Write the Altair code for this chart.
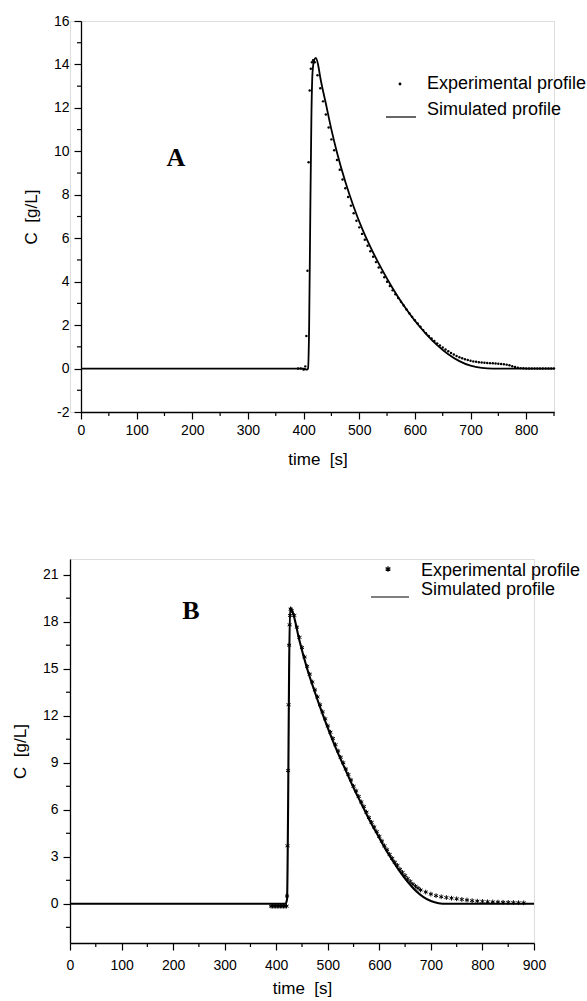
import altair as alt
import pandas as pd

# ---------------- panel A data ----------------
A_SIM_T = [0, 400, 406, 408, 410, 412, 414, 416, 419, 422, 426, 430, 440, 450, 460, 475,
           490, 505, 520, 540, 560, 580, 600, 620, 640, 660, 680, 700, 720, 740, 850]
A_SIM_C = [0, 0, -0.05, 0.0, 2.0, 7.0, 11.5, 13.6, 14.2, 14.3, 14.0, 13.4, 12.2, 11.0, 9.95, 8.6,
           7.45, 6.45, 5.6, 4.6, 3.7, 2.9, 2.2, 1.6, 1.08, 0.66, 0.34, 0.13, 0.03, 0, 0]

A_EXP_T = [390, 395, 400, 403, 405, 407, 409, 411, 413, 415, 417, 420] + list(range(425, 851, 5))
A_EXP_C = [0, 0, -0.05, 0.1, 1.5, 4.5, 9.5, 12.8, 13.8, 14.1, 14.2, 14.1,
           13.5, 12.9, 12.3, 11.7, 11.1, 10.55, 10.05, 9.6, 9.15, 8.7,
           8.3, 7.9, 7.5, 7.15, 6.8, 6.5, 6.2, 5.93, 5.65, 5.4,
           5.15, 4.9, 4.65, 4.42, 4.2, 4.0, 3.8, 3.6, 3.42, 3.25,
           3.08, 2.9, 2.72, 2.55, 2.38, 2.22, 2.07, 1.92, 1.77, 1.63,
           1.5, 1.38, 1.27, 1.16, 1.06, 0.97, 0.88, 0.8, 0.72, 0.65,
           0.58, 0.52, 0.47, 0.43, 0.39, 0.36, 0.33, 0.31, 0.29, 0.28,
           0.27, 0.26, 0.25, 0.24, 0.23, 0.22, 0.21, 0.2, 0.18, 0.15,
           0.11, 0.07, 0.04, 0.02, 0.01, 0,
           0, 0, 0, 0, 0, 0, 0, 0, 0, 0]

A_X_TICKS = [0, 100, 200, 300, 400, 500, 600, 700, 800]
A_X_MINOR = [50, 150, 250, 350, 450, 550, 650, 750, 850]
A_Y_TICKS = [-2, 0, 2, 4, 6, 8, 10, 12, 14, 16]
A_Y_MINOR = [-1, 1, 3, 5, 7, 9, 11, 13, 15]

# ---------------- panel B data ----------------
B_SIM_T = [0, 418, 421, 423, 425, 427, 432, 445, 460, 475, 490, 505, 520, 535, 550, 565,
           580, 595, 610, 625, 640, 655, 670, 685, 700, 715, 730, 900]
B_SIM_C = [0, 0, 0.3, 6.0, 15.0, 18.9, 18.6, 16.8, 15.0, 13.5, 12.1, 10.8, 9.6, 8.5, 7.4, 6.4,
           5.4, 4.5, 3.6, 2.8, 2.05, 1.4, 0.85, 0.45, 0.18, 0.04, 0, 0]

B_EXP_T = ([390, 393, 396, 399, 402, 405, 408, 411, 414, 417, 420,
            421, 422, 423, 424, 425, 426, 427, 428]
           + list(range(430, 681, 5)) + list(range(690, 881, 10)))
B_EXP_C = ([-0.15, -0.15, -0.15, -0.15, -0.15, -0.15, -0.15, -0.15, -0.15, -0.15, -0.15,
            0.5, 3.7, 8.5, 12.7, 16.5, 17.8, 18.4, 18.8]
           + [18.7, 18.4, 17.65, 17.0, 16.35, 15.75, 15.15, 14.65, 14.15, 13.65,
              13.2, 12.7, 12.25, 11.8, 11.35, 10.95, 10.55, 10.15, 9.75, 9.35,
              9.0, 8.6, 8.25, 7.9, 7.5, 7.2, 6.85, 6.5, 6.2, 5.85,
              5.5, 5.2, 4.9, 4.6, 4.3, 4.0, 3.7, 3.45, 3.15, 2.9,
              2.65, 2.45, 2.2, 2.0, 1.8, 1.6, 1.42, 1.25, 1.12, 1.0, 0.88]
           + [0.75, 0.62, 0.52, 0.45, 0.4, 0.36, 0.32, 0.28, 0.24, 0.2,
              0.17, 0.15, 0.13, 0.12, 0.11, 0.1, 0.09, 0.08, 0.07, 0.06])

B_X_TICKS = [0, 100, 200, 300, 400, 500, 600, 700, 800, 900]
B_X_MINOR = [50, 150, 250, 350, 450, 550, 650, 750, 850]
B_Y_TICKS = [0, 3, 6, 9, 12, 15, 18, 21]
B_Y_MINOR = [-1.5, 1.5, 4.5, 7.5, 10.5, 13.5, 16.5, 19.5]

LEGEND_TEXT = ["Experimental profile", "Simulated profile"]
X_TITLE = "time \u00a0[s]"
Y_TITLE = "C \u00a0[g/L]"

FONT = "Liberation Sans"
ASTERISK = "M0,-1L0,1M-0.87,-0.5L0.87,0.5M-0.87,0.5L0.87,-0.5"


def panel(sim_t, sim_c, exp_t, exp_c, xdom, ydom, xt, xm, yt, ym, w, h, shift,
          xlabel_pad, xtitle_pad, line_w, exp_mark, letter, lpos, leg, limit):
    """shift: inset (px) of the y axis from the left edge of the view."""
    sim = pd.DataFrame({"t": sim_t, "c": sim_c})
    exp = pd.DataFrame({"t": exp_t, "c": exp_c})
    xs = alt.Scale(domain=xdom, nice=False, zero=False, range=[shift, shift + w])
    ys = alt.Scale(domain=ydom, nice=False, zero=False)
    common = dict(grid=False, tickSize=7, labelFont=FONT, labelFontSize=14,
                  labelColor="black", titleFont=FONT, titleFontSize=17,
                  titleFontWeight="normal", titleColor="black", domainColor="black",
                  domainWidth=1.3, tickColor="black", tickWidth=1.2,
                  labelExpr="'' + datum.value", labelFlush=False, labelOverlap=False)
    xaxis = alt.Axis(values=xt, title=X_TITLE, labelPadding=xlabel_pad,
                     titlePadding=xtitle_pad, **common)
    yaxis = alt.Axis(values=yt, title=Y_TITLE, labelPadding=5, titlePadding=13,
                     offset=-shift, **common)

    def X(f="t"):
        return alt.X(f + ":Q", scale=xs, axis=xaxis)

    def Y(f="c"):
        return alt.Y(f + ":Q", scale=ys, axis=yaxis)

    line = alt.Chart(sim).mark_line(color="black", strokeWidth=line_w,
                                    interpolate="monotone").encode(x=X(), y=Y())

    if exp_mark == "dot":
        pts = alt.Chart(exp).mark_circle(size=6, color="black", opacity=1)
    else:
        pts = alt.Chart(exp).mark_point(shape=ASTERISK, size=22, filled=False,
                                        color="black", strokeWidth=1, opacity=1)
    pts = pts.encode(x=X(), y=Y())

    mx = alt.Chart(pd.DataFrame({"t": xm})).mark_rule(color="black", strokeWidth=1.2).encode(
        x=X(), y=alt.value(h), y2=alt.value(h + 4))
    my = alt.Chart(pd.DataFrame({"c": ym})).mark_rule(color="black", strokeWidth=1.2).encode(
        y=Y(), x=alt.value(shift), x2=alt.value(shift - 4))

    one = pd.DataFrame({"s": [letter]})
    lab = alt.Chart(one).mark_text(font="Liberation Serif", fontWeight="bold", fontSize=26,
                                   align="center", baseline="middle", color="black").encode(
        text="s:N", x=alt.value(shift + lpos[0]), y=alt.value(lpos[1]))

    # legend
    sx, sy, tx, ty1, ty2, lx1, lx2, ly = leg
    if exp_mark == "dot":
        lstar = alt.Chart(one).mark_circle(size=8, color="black", opacity=1)
    else:
        lstar = alt.Chart(one).mark_point(shape=ASTERISK, size=30, filled=False,
                                          color="black", strokeWidth=1.2, opacity=1)
    lstar = lstar.encode(x=alt.value(shift + sx), y=alt.value(sy))
    t1 = alt.Chart(pd.DataFrame({"s": [LEGEND_TEXT[0]]})).mark_text(
        font=FONT, fontSize=18, align="left", baseline="middle", color="black",
        limit=limit, ellipsis="").encode(
        text="s:N", x=alt.value(shift + tx), y=alt.value(ty1))
    t2 = alt.Chart(pd.DataFrame({"s": [LEGEND_TEXT[1]]})).mark_text(
        font=FONT, fontSize=18, align="left", baseline="middle", color="black").encode(
        text="s:N", x=alt.value(shift + tx), y=alt.value(ty2))
    lrule = alt.Chart(one).mark_rule(color="black", strokeWidth=1.2).encode(
        x=alt.value(shift + lx1), x2=alt.value(shift + lx2), y=alt.value(ly))

    return alt.layer(line, pts, mx, my, lab, lstar, t1, t2, lrule).properties(
        width=shift + w, height=h)


chart_a = panel(A_SIM_T, A_SIM_C, A_EXP_T, A_EXP_C, [0, 850], [-2, 16],
                A_X_TICKS, A_X_MINOR, A_Y_TICKS, A_Y_MINOR, 473, 391, 11, 4, 14, 1.8,
                "dot", "A", (95, 137),
                (319, 63, 346, 63, 89, 305, 335, 96), 160)
chart_b = panel(B_SIM_T, B_SIM_C, B_EXP_T, B_EXP_C, [0, 900], [-2.5, 22],
                B_X_TICKS, B_X_MINOR, B_Y_TICKS, B_Y_MINOR, 464, 384, 0, 8, 8, 2.1,
                "star", "B", (121, 52),
                (318, 10, 351, 12, 31, 301, 339, 38), 220)

chart = alt.vconcat(chart_a, chart_b, spacing=90).properties(
    padding={"left": 10, "top": 13, "right": 0, "bottom": 0}
).configure_view(stroke="transparent", strokeWidth=0).configure(background="white")

chart.save("out.html", embed_options={"renderer": "svg", "actions": False})
